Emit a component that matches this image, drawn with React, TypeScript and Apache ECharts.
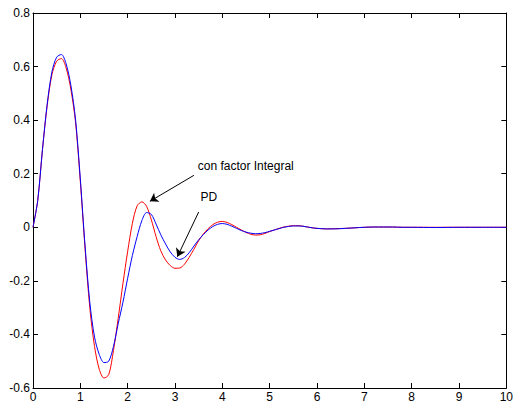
import React, { useEffect, useRef } from "react";
import * as echarts from "echarts";

const time = [
  0, 0.1, 0.2, 0.3, 0.4, 0.5, 0.6, 0.7, 0.8, 0.9,
  1.0, 1.1, 1.2, 1.3, 1.4, 1.5, 1.6, 1.7, 1.8, 1.9,
  2.0, 2.1, 2.2, 2.3, 2.4, 2.5, 2.6, 2.7, 2.8, 2.9,
  3.0, 3.1, 3.2, 3.3, 3.4, 3.5, 3.6, 3.7, 3.8, 3.9,
  4.0, 4.1, 4.2, 4.3, 4.4, 4.5, 4.6, 4.7, 4.8, 4.9,
  5.0, 5.1, 5.2, 5.3, 5.4, 5.5, 5.6, 5.7, 5.8, 5.9,
  6.0, 6.2, 6.4, 6.6, 6.8, 7.0, 7.2, 7.4, 7.6, 7.8,
  8.0, 8.5, 9.0, 9.5, 10,
];

const pdValues = [
  0, 0.1, 0.29, 0.46, 0.58, 0.635, 0.645, 0.61, 0.53, 0.4,
  0.18, -0.07, -0.28, -0.41, -0.475, -0.505, -0.5, -0.445, -0.36, -0.28,
  -0.19, -0.105, -0.035, 0.025, 0.055, 0.048, 0.012, -0.028, -0.062, -0.092,
  -0.112, -0.12, -0.113, -0.095, -0.07, -0.047, -0.027, -0.01, 0.003, 0.011,
  0.014, 0.011, 0.004, -0.004, -0.012, -0.018, -0.022, -0.024, -0.023, -0.02,
  -0.015, -0.01, -0.005, 0, 0.003, 0.005, 0.005, 0.004, 0.001, -0.002,
  -0.004, -0.006, -0.006, -0.004, -0.002, 0, 0.001, 0.001, 0.001, 0,
  0, -0.001, 0, 0, 0,
];

const integralValues = [
  0, 0.1, 0.29, 0.455, 0.57, 0.62, 0.63, 0.595, 0.515, 0.39,
  0.17, -0.08, -0.3, -0.445, -0.53, -0.563, -0.55, -0.46, -0.34, -0.21,
  -0.09, 0.015, 0.08, 0.095, 0.078, 0.028, -0.035, -0.088, -0.122, -0.143,
  -0.153, -0.152, -0.138, -0.112, -0.082, -0.05, -0.025, -0.005, 0.01, 0.019,
  0.022, 0.018, 0.01, 0, -0.01, -0.019, -0.026, -0.029, -0.028, -0.023,
  -0.016, -0.01, -0.004, 0.001, 0.004, 0.006, 0.006, 0.004, 0.001, -0.002,
  -0.004, -0.006, -0.005, -0.004, -0.002, 0, 0.001, 0.001, 0.001, 0,
  0, 0, 0, 0, 0,
];

const annotationTexts = ["con factor Integral", "PD"];
const textAnchors = [
  [3.48, 0.227],
  [3.54, 0.113],
];
const arrowStarts = [
  [3.4, 0.194],
  [3.5, 0.057],
];
const arrowTips = [
  [2.47, 0.097],
  [3.05, -0.11],
];

const FONT = "Arial, 'Liberation Sans', sans-serif";

export default function App() {
  const ref = useRef<HTMLDivElement>(null);

  useEffect(() => {
    if (!ref.current) return;
    const chart = echarts.init(ref.current, undefined, { renderer: "svg" });

    const axisCommon = {
      axisLine: { show: true, onZero: false, lineStyle: { color: "#000", width: 1 } },
      axisTick: { show: true, inside: true, length: 5, lineStyle: { color: "#000" } },
      splitLine: { show: false },
    };

    const labelCommon = { color: "#000", fontSize: 12, fontFamily: FONT };

    chart.setOption({
      animation: false,
      backgroundColor: "#fff",
      grid: { left: 33, right: 6, top: 13, bottom: 16, containLabel: false },
      xAxis: [
        {
          type: "value",
          min: 0,
          max: 10,
          interval: 1,
          position: "bottom",
          ...axisCommon,
          axisLabel: { ...labelCommon, margin: 3 },
        },
        {
          type: "value",
          min: 0,
          max: 10,
          interval: 1,
          position: "top",
          ...axisCommon,
          axisLabel: { show: false },
        },
      ],
      yAxis: [
        {
          type: "value",
          min: -0.6,
          max: 0.8,
          interval: 0.2,
          position: "left",
          ...axisCommon,
          axisLabel: { ...labelCommon, margin: 3 },
        },
        {
          type: "value",
          min: -0.6,
          max: 0.8,
          interval: 0.2,
          position: "right",
          ...axisCommon,
          axisLabel: { show: false },
        },
      ],
      series: [
        {
          name: "con factor Integral",
          type: "line",
          data: time.map((t, i) => [t, integralValues[i]]),
          showSymbol: false,
          smooth: 0.3,
          lineStyle: { color: "#ff0000", width: 1 },
          itemStyle: { color: "#ff0000" },
          z: 2,
        },
        {
          name: "PD",
          type: "line",
          data: time.map((t, i) => [t, pdValues[i]]),
          showSymbol: false,
          smooth: 0.3,
          lineStyle: { color: "#0000ff", width: 1 },
          itemStyle: { color: "#0000ff" },
          z: 3,
          markLine: {
            silent: true,
            symbol: ["none", "arrow"],
            symbolSize: 8,
            label: { show: false },
            lineStyle: { color: "#000", width: 1, type: "solid" },
            data: arrowStarts.map((s, i) => [
              { coord: s, symbol: "none" },
              { coord: arrowTips[i], symbol: "arrow" },
            ]),
          },
          markPoint: {
            silent: true,
            symbol: "circle",
            symbolSize: 0,
            data: annotationTexts.map((txt, i) => ({
              coord: textAnchors[i],
              value: txt,
              label: {
                show: true,
                position: "right",
                distance: 0,
                formatter: txt,
                ...labelCommon,
              },
            })),
          },
        },
      ],
    });

    return () => chart.dispose();
  }, []);

  return (
    <div
      ref={ref}
      style={{ position: "fixed", left: 0, top: 0, width: 516, height: 404 }}
    />
  );
}
